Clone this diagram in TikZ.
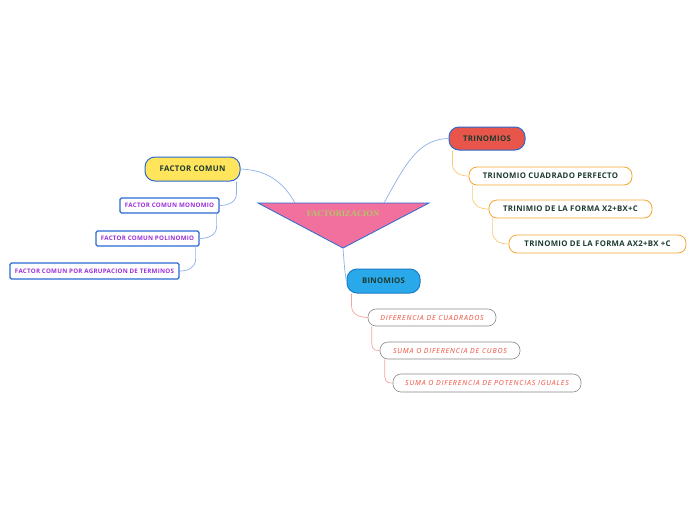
\documentclass[tikz,border=0pt]{standalone}
\usepackage{fontspec}
\setmainfont{Open Sans}
\newfontfamily\serifb{Liberation Serif}
\newfontfamily\tracked[LetterSpace=4]{Open Sans}
\newfontfamily\handf[LetterSpace=12]{Open Sans}
\usetikzlibrary{calc}
\definecolor{mainblue}{HTML}{2A6AD1}
\definecolor{linkblue}{HTML}{8CB2EA}
\definecolor{pinkfill}{HTML}{F2709E}
\definecolor{olive}{HTML}{B3C467}
\definecolor{yellowfill}{HTML}{FFE45C}
\definecolor{darkgreen}{HTML}{1C3B2E}
\definecolor{purp}{HTML}{9B30D9}
\definecolor{redfill}{HTML}{E8554A}
\definecolor{orangeb}{HTML}{F5A62E}
\definecolor{orangel}{HTML}{F9C874}
\definecolor{binfill}{HTML}{29A8EA}
\definecolor{binb}{HTML}{1F7CC9}
\definecolor{grayb}{HTML}{8A8A8A}
\definecolor{salmon}{HTML}{F4A79C}
\definecolor{redtext}{HTML}{EE4B3A}
\tikzset{
  mainnode/.style={draw=mainblue, line width=1pt, rounded corners=10pt, inner sep=0pt, text=darkgreen, font=\tracked\bfseries\fontsize{7.8}{9}\selectfont},
  purpbox/.style={draw=mainblue, line width=1.2pt, rounded corners=1.5pt, fill=white, inner sep=0pt, text=purp, font=\tracked\bfseries\fontsize{6.2}{7}\selectfont},
  orbox/.style={draw=orangeb, line width=0.8pt, rounded corners=8pt, fill=white, inner sep=0pt, text=darkgreen, font=\tracked\bfseries\fontsize{7.8}{9}\selectfont},
  grbox/.style={draw=grayb, line width=0.6pt, rounded corners=8pt, fill=white, inner sep=0pt, text=redtext, font=\handf\itshape\fontsize{7}{8}\selectfont},
  link/.style={draw=linkblue, line width=0.7pt},
  olink/.style={draw=orangel, line width=0.7pt},
  slink/.style={draw=salmon, line width=0.7pt},
}
\begin{document}
\begin{tikzpicture}[x=1pt,y=-1pt]
\useasboundingbox (0,0) rectangle (696,520);
\fill[white] (0,0) rectangle (696,520);
% central triangle
\coordinate (fzTL) at (258,203);
\coordinate (fzTR) at (429,203);
\coordinate (fzB) at (343,248);
\coordinate (fzL) at (295,203);
\coordinate (fzR) at (384,203);
\filldraw[fill=pinkfill, draw=mainblue, line width=0.8pt] (fzTL) -- (fzTR) -- (fzB) -- cycle;
\node[text=olive, font=\serifb\bfseries\fontsize{8.5}{10}\selectfont] (fz) at (343,214) {FACTORIZACION};
% main nodes
\node[mainnode, fill=yellowfill, minimum width=95pt, minimum height=24pt] (fc) at (192.5,169) {FACTOR COMUN};
\node[mainnode, fill=redfill, minimum width=76pt, minimum height=23pt] (tr) at (487,138.5) {TRINOMIOS};
\node[mainnode, draw=binb, fill=binfill, minimum width=73pt, minimum height=24pt] (bi) at (383.5,281) {BINOMIOS};
% factor comun children
\node[purpbox, minimum width=99pt, minimum height=15pt] (m1) at (169.5,205.5) {FACTOR COMUN MONOMIO};
\node[purpbox, minimum width=103pt, minimum height=15pt] (m2) at (147.5,238.5) {FACTOR COMUN POLINOMIO};
\node[purpbox, minimum width=169pt, minimum height=16pt] (m3) at (94.5,271) {FACTOR COMUN POR AGRUPACION DE TERMINOS};
% trinomios children
\node[orbox, minimum width=163pt, minimum height=18pt] (t1) at (550.5,176) {TRINOMIO CUADRADO PERFECTO};
\node[orbox, minimum width=163pt, minimum height=18pt] (t2) at (570.5,209) {TRINIMIO DE LA FORMA X2+BX+C};
\node[orbox, minimum width=177pt, minimum height=18pt] (t3) at (597.5,244) {TRINOMIO DE LA FORMA AX2+BX +C};
% binomios children
\node[grbox, minimum width=128pt, minimum height=17pt] (b1) at (432,317.5) {DIFERENCIA DE CUADRADOS};
\node[grbox, minimum width=140pt, minimum height=17pt] (b2) at (450,350.5) {SUMA O DIFERENCIA DE CUBOS};
\node[grbox, minimum width=188pt, minimum height=18pt] (b3) at (487,383) {SUMA O DIFERENCIA DE POTENCIAS IGUALES};
% main links
\draw[link] (fc.east) .. controls (270,170) and (285,185) .. (fzL);
\draw[link] (fzR) .. controls (405,165) and (418,139) .. (tr.west);
\draw[link] (fzB) .. controls (344,262) and (345,275) .. (bi.west);
% left-side sub links
\draw[link] ($(fc.south east)+(-4,0)$) -- ($(fc.south east|-m1.east)+(-4,-12)$) .. controls ($(fc.south east|-m1.east)+(-4,-3)$) and ($(m1.east)+(8,0)$) .. (m1.east);
\draw[link] ($(m1.south east)+(-3,0)$) -- ($(m1.south east|-m2.east)+(-3,-12)$) .. controls ($(m1.south east|-m2.east)+(-3,-3)$) and ($(m2.east)+(8,0)$) .. (m2.east);
\draw[link] ($(m2.south east)+(-4,0)$) -- ($(m2.south east|-m3.east)+(-4,-12)$) .. controls ($(m2.south east|-m3.east)+(-4,-3)$) and ($(m3.east)+(8,0)$) .. (m3.east);
% trinomios sub links
\draw[olink] ($(tr.south west)+(4,0)$) -- ($(tr.south west|-t1.west)+(4,-12)$) .. controls ($(tr.south west|-t1.west)+(4,-3)$) and ($(t1.west)+(-8,0)$) .. (t1.west);
\draw[olink] ($(t1.south west)+(4,0)$) -- ($(t1.south west|-t2.west)+(4,-12)$) .. controls ($(t1.south west|-t2.west)+(4,-3)$) and ($(t2.west)+(-8,0)$) .. (t2.west);
\draw[olink] ($(t2.south west)+(4,0)$) -- ($(t2.south west|-t3.west)+(4,-12)$) .. controls ($(t2.south west|-t3.west)+(4,-3)$) and ($(t3.west)+(-8,0)$) .. (t3.west);
% binomios sub links
\draw[slink] ($(bi.south west)+(5,0)$) -- ($(bi.south west|-b1.west)+(5,-12)$) .. controls ($(bi.south west|-b1.west)+(5,-3)$) and ($(b1.west)+(-8,0)$) .. (b1.west);
\draw[slink] ($(b1.south west)+(4,0)$) -- ($(b1.south west|-b2.west)+(4,-12)$) .. controls ($(b1.south west|-b2.west)+(4,-3)$) and ($(b2.west)+(-8,0)$) .. (b2.west);
\draw[slink] ($(b2.south west)+(5,0)$) -- ($(b2.south west|-b3.west)+(5,-12)$) .. controls ($(b2.south west|-b3.west)+(5,-3)$) and ($(b3.west)+(-8,0)$) .. (b3.west);
\end{tikzpicture}
\end{document}
